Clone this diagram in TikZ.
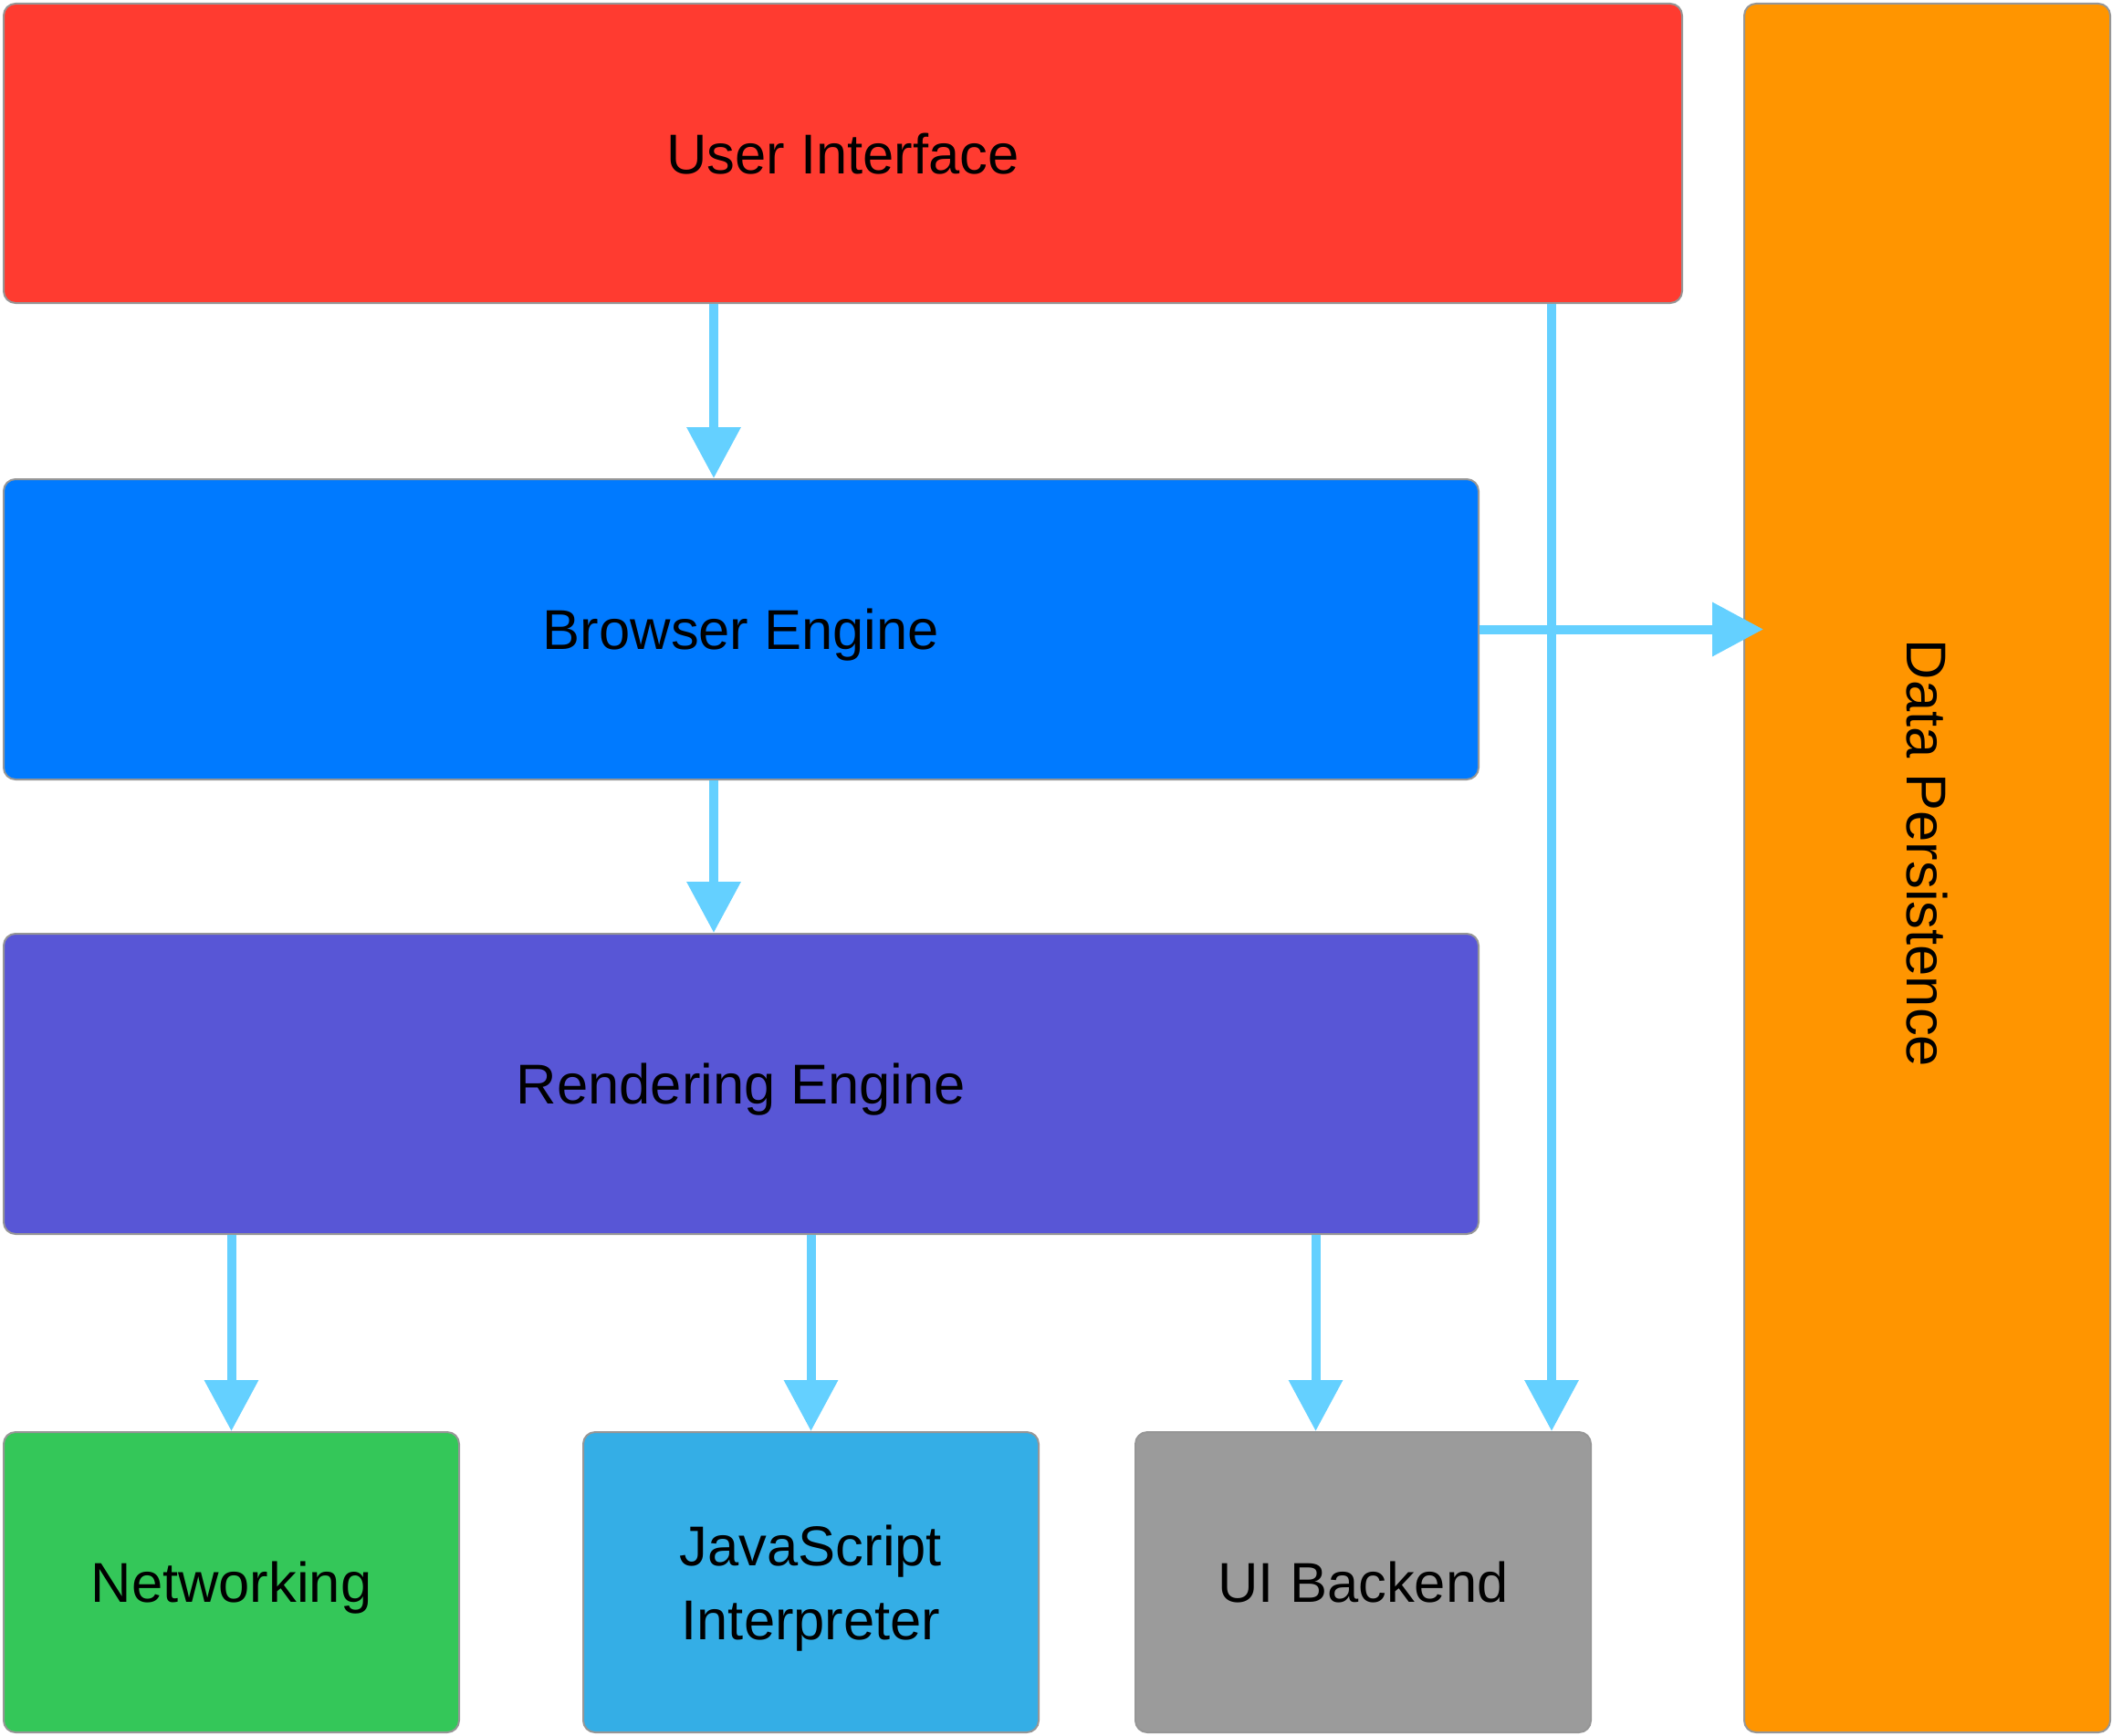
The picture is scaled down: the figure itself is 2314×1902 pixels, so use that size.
\documentclass[tikz,border=0pt]{standalone}
\usepackage{fontspec}
\setmainfont{Liberation Sans}
\usepackage{xcolor}
\definecolor{uired}{RGB}{255,59,48}
\definecolor{beblue}{RGB}{0,122,255}
\definecolor{repurple}{RGB}{88,86,214}
\definecolor{netgreen}{RGB}{52,199,89}
\definecolor{jsblue}{RGB}{52,174,230}
\definecolor{uibgray}{RGB}{155,155,155}
\definecolor{dporange}{RGB}{255,149,0}
\definecolor{flowblue}{RGB}{100,208,255}
\definecolor{boxborder}{RGB}{150,150,150}
\usepackage{tikz}
\usetikzlibrary{arrows.meta}
\newcommand{\boxfont}{\fontsize{61.5}{81}\selectfont}
\newcommand{\heightbox}{329pt}
\newcommand{\widthtop}{1839pt}
\newcommand{\widthlayer}{1616pt}
\newcommand{\widthunit}{499pt}
\tikzset{
    common/.style={anchor=north west, draw=boxborder, line width=2pt, rectangle, rounded corners=13pt, minimum height=\heightbox, inner sep=0pt, font=\boxfont},
    single/.style={text depth=0pt},
    topbar/.style={common, single, minimum width=\widthtop, minimum height=328pt},
    layer/.style={common, single, minimum width=\widthlayer},
    unit/.style={common, single, minimum width=\widthunit},
    store/.style={common, minimum width=401pt, minimum height=1894pt},
    flow/.style={-{Triangle[length=56pt, width=57pt]}, line width=10pt, flowblue}
}
\begin{document}
\begin{tikzpicture}[x=1pt, y=1pt]
        \useasboundingbox (0,0) rectangle (2314,-1902);

        \path
            (3,-3) node[topbar, fill=uired] (ui) {User Interface}
            ++(0,-521) node[layer, fill=beblue] (be) {Browser Engine}
            ++(0,-498) node[layer, fill=repurple] (re) {Rendering Engine}
            ++(0,-546) node[unit, fill=netgreen] (net) {Networking}
            ++(635,0) node[unit, fill=jsblue, align=center] (js) {JavaScript\\Interpreter}
            ++(605,0) node[unit, fill=uibgray] (uib) {UI Backend};

        \path
            (1910,-3) node[store, fill=dporange] (dp) {\rotatebox{-90}{Data Persistence\hspace{32pt}}};

        \path[flow]
          ([xshift=-141.5pt]ui.south) edge ([xshift=-30pt]be.north)
          ([xshift=776.5pt]ui.south) edge ([xshift=206.5pt]uib.north)
          (be.east) edge ([xshift=22pt, yshift=261.5pt]dp.west)
          ([xshift=-30pt]be.south) edge ([xshift=-30pt]re.north);

        \path[flow]
          ([xshift=-558.5pt]re.south) edge (net.north)
          ([xshift=76.5pt]re.south) edge (js.north)
          ([xshift=629.5pt]re.south) edge ([xshift=-52pt]uib.north);
    \end{tikzpicture}
\end{document}
